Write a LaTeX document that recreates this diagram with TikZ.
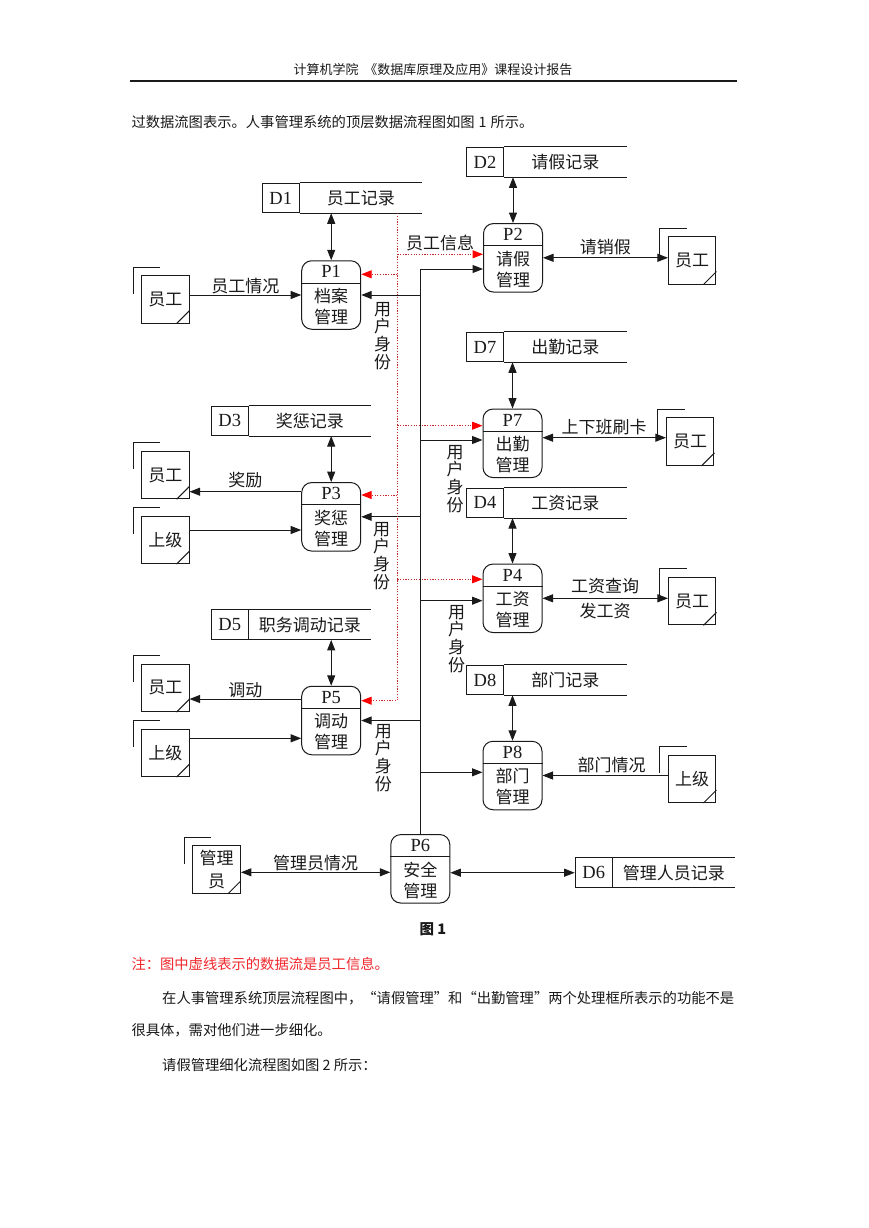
\documentclass[tikz,border=0pt]{standalone}
\usepackage{fontspec}
\setmainfont{Liberation Serif}
\newfontfamily\cjk{Noto Sans CJK SC}
\usepackage{tikz}
\usetikzlibrary{arrows.meta,positioning,calc}
\definecolor{Ink}{HTML}{1A1A1A}
\definecolor{NoteRed}{HTML}{F0282D}
\definecolor{DotRed}{HTML}{C62828}
\definecolor{TipRed}{HTML}{FF0000}

\begin{document}
\begin{tikzpicture}[x=1pt,y=-1pt,line width=1pt,draw=Ink,
  every node/.style={align=center,inner sep=0pt,text=Ink},
  proc/.style={draw,rounded corners=10pt,minimum width=59pt,minimum height=68.5pt},
  ptag/.style={font=\fontsize{18.5}{20}\selectfont},
  ptxt/.style={font=\cjk\fontsize{17}{21}\selectfont},
  dsid/.style={draw,minimum width=37pt,minimum height=29.5pt,font=\fontsize{18.5}{20}\selectfont},
  dsname/.style={minimum width=121.5pt,minimum height=29.5pt,font=\cjk\fontsize{17}{20}\selectfont},
  ext/.style={draw,minimum width=47.5pt,minimum height=47.5pt,font=\cjk\fontsize{17}{23}\selectfont},
  lbl/.style={font=\cjk\fontsize{17}{18}\selectfont},
  vlbl/.style={font=\cjk\fontsize{17}{17.8}\selectfont},
  body/.style={anchor=west,font=\cjk\fontsize{14.3}{16}\selectfont},
  flow/.style={-{Triangle[length=10.5pt,width=8pt]}},
  both/.style={{Triangle[length=10.5pt,width=8pt]}-{Triangle[length=10.5pt,width=8pt]}},
  info/.style={draw=DotRed,line width=1pt,dash pattern=on 1.2pt off 1.5pt,-{Triangle[length=10.5pt,width=8pt,color=TipRed]}}]
  \fill[white] (0,0) rectangle (869,1228);
  \useasboundingbox (0,0) rectangle (869,1228);

  \node[font=\cjk\fontsize{13}{14}\selectfont] (head) at (433,70) {计算机学院\hspace{6pt}《数据库原理及应用》课程设计报告};
  \draw[line width=1.2pt] (130,81) -- (737,81);
  \node[body] (intro) at (131,122) {过数据流图表示。人事管理系统的顶层数据流程图如图\hspace{4pt}1\hspace{4pt}所示。};

  \node[proc] (p1) at (331.2,295) {};
  \node[proc] (p2) at (513,257.8) {};
  \node[proc] (p7) at (512.5,443.3) {};
  \node[proc] (p4) at (512.5,598.3) {};
  \node[proc] (p8) at (512.5,775.5) {};
  \node[proc] (p3) at (331.2,516.8) {};
  \node[proc] (p5) at (331.2,720.5) {};
  \node[proc] (p6) at (420.3,868.8) {};
  \foreach \n/\t/\b in {p1/P1/档案\\管理,p2/P2/请假\\管理,p7/P7/出勤\\管理,p4/P4/工资\\管理,
      p8/P8/部门\\管理,p3/P3/奖惩\\管理,p5/P5/调动\\管理,p6/P6/安全\\管理}{
    \draw ([yshift=-22.8pt]\n.north west) -- ([yshift=-22.8pt]\n.north east);
    \node[ptag] (\n-tag) at ([yshift=-11.4pt]\n.north) {\t};
    \node[ptxt] (\n-txt) at ([yshift=-11.4pt]\n.center) {\b};
  }

  \node[dsid] (d1) at (280.7,198) {D1};
  \node[dsname,right=0pt of d1] (d1n) {员工记录};
  \node[dsid] (d2) at (485,162) {D2};
  \node[dsname,right=0pt of d2] (d2n) {请假记录};
  \node[dsid] (d7) at (485,347) {D7};
  \node[dsname,right=0pt of d7] (d7n) {出勤记录};
  \node[dsid] (d4) at (485,502.8) {D4};
  \node[dsname,right=0pt of d4] (d4n) {工资记录};
  \node[dsid] (d8) at (485,680) {D8};
  \node[dsname,right=0pt of d8] (d8n) {部门记录};
  \node[dsid] (d3) at (229.7,420.8) {D3};
  \node[dsname,right=0pt of d3] (d3n) {奖惩记录};
  \node[dsid] (d5) at (229.7,624.7) {D5};
  \node[dsname,right=0pt of d5] (d5n) {职务调动记录};
  \node[dsid] (d6) at (593.7,872.7) {D6};
  \node[dsname,right=0pt of d6] (d6n) {管理人员记录};
  \foreach \d in {d1n,d2n,d7n,d4n,d8n,d3n,d5n,d6n}{
    \draw (\d.north west) -- (\d.north east) (\d.south west) -- (\d.south east);
  }

  \node[ext] (e1) at (165.3,299.3) {员工};
  \node[ext] (e2) at (692.2,260.3) {员工};
  \node[ext] (e3) at (690.2,441.7) {员工};
  \node[ext] (e4) at (692.2,601.2) {员工};
  \node[ext] (e5) at (692.2,778.8) {上级};
  \node[ext] (e6) at (165.3,475) {员工};
  \node[ext] (e7) at (165.3,539.8) {上级};
  \node[ext] (e8) at (165.3,687.8) {员工};
  \node[ext] (e9) at (165.3,752.8) {上级};
  \node[ext] (e10) at (216.7,869.5) {管理\\员};
  \foreach \e in {e1,e2,e3,e4,e5,e6,e7,e8,e9,e10}{
    \draw ([xshift=-8pt,yshift=-18.5pt]\e.north west) |- ([xshift=19pt,yshift=8pt]\e.north west);
    \draw ([xshift=-13pt]\e.south east) -- ([yshift=13pt]\e.south east);
  }

  \draw[both] (d1n.south -| p1.north) -- (p1.north);
  \draw[both] (d2n.south -| p2.north) -- (p2.north);
  \draw[both] (d7n.south -| p7.north) -- (p7.north);
  \draw[both] (d4n.south -| p4.north) -- (p4.north);
  \draw[both] (d8n.south -| p8.north) -- (p8.north);
  \draw[both] (d3n.south -| p3.north) -- (p3.north);
  \draw[both] (d5n.south -| p5.north) -- (p5.north);
  \draw[both] (p6.east |- d6.west) -- (d6.west);

  \draw[flow] (e1.east |- p1.west) -- (p1.west) node[lbl,midway,above=0.5pt] (l1) {员工情况};
  \draw[both] (p2.east) -- (p2.east -| e2.west) node[lbl,midway,above=2pt] (l2) {请销假};
  \draw[both] (p7.east |- 0,437.7) -- (e3.west |- 0,437.7) node[lbl,midway,above=2pt] (l3) {上下班刷卡};
  \draw[both] (p4.east) -- (p4.east -| e4.west) node[lbl,midway,above=4pt] (l4) {工资查询}
    node[lbl,midway,below=4pt] (l4b) {发工资};
  \draw[flow] (e5.west |- p8.east) -- (p8.east) node[lbl,pos=0.45,above=2pt] (l5) {部门情况};
  \draw[flow] (p3.west |- 0,491.7) -- (e6.east |- 0,491.7) node[lbl,midway,above=3pt] (l6) {奖励};
  \draw[flow] (e7.east |- 0,530) -- (p3.west |- 0,530);
  \draw[flow] (p5.west |- 0,699) -- (e8.east |- 0,699) node[lbl,midway,above=1pt] (l8) {调动};
  \draw[flow] (e9.east |- 0,738.3) -- (p5.west |- 0,738.3);
  \draw[both] (e10.east |- 0,872.3) -- (p6.west |- 0,872.3) node[lbl,midway,above=1pt] (l10) {管理员情况};

  \draw[flow] (p6.north) |- (p2.west |- 0,269);
  \draw[flow] (p6.north |- p1.east) -- (p1.east);
  \draw[flow] (p6.north |- 0,440) -- (p7.west |- 0,440);
  \draw[flow] (p6.north |- p3.east) -- (p3.east);
  \draw[flow] (p6.north |- 0,600.7) -- (p4.west |- 0,600.7);
  \draw[flow] (p6.north |- p5.east) -- (p5.east);
  \draw[flow] (p6.north |- 0,772.3) -- (p8.west |- 0,772.3);
  \node[vlbl] (u1) at (382.7,336) {用\\户\\身\\份};
  \node[vlbl] (u3) at (381.7,556) {用\\户\\身\\份};
  \node[vlbl] (u5) at (383.3,758) {用\\户\\身\\份};
  \node[vlbl] (u7) at (455,479) {用\\户\\身\\份};
  \node[vlbl] (u4) at (456.7,639) {用\\户\\身\\份};

  \draw[info] (d1n.south -| 397.3,0) |- (p5.east |- 0,700.7);
  \draw[info] (397.3,254.3) -- (p2.west |- 0,254.3) node[lbl,midway,above=2.5pt] (li) {员工信息};
  \draw[info] (397.3,274.3) -- (p1.east |- 0,274.3);
  \draw[info] (397.3,425.7) -- (p7.west |- 0,425.7);
  \draw[info] (397.3,495) -- (p3.east |- 0,495);
  \draw[info] (397.3,579.3) -- (p4.west |- 0,579.3);

  \node[font=\cjk\bfseries\fontsize{14.5}{16}\selectfont] (cap) at (433,929) {图 1};
  \node[body,text=NoteRed] (note) at (131,964) {注：图中虚线表示的数据流是员工信息。};
  \node[body] (para1) at (161.7,998.3) {在人事管理系统顶层流程图中，“请假管理”和“出勤管理”两个处理框所表示的功能不是};
  \node[body] (para2) at (131,1030) {很具体，需对他们进一步细化。};
  \node[body] (para3) at (161.7,1065) {请假管理细化流程图如图 2 所示：};
\end{tikzpicture}
\end{document}
